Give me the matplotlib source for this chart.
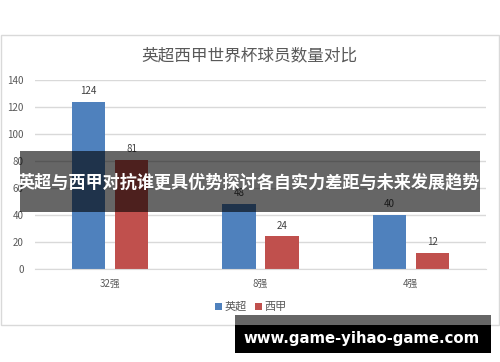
import matplotlib
matplotlib.use('Agg')
import numpy as np
import matplotlib.pyplot as plt
from matplotlib.patches import Rectangle

plt.rcParams['font.family'] = ['Noto Sans CJK SC', 'DejaVu Sans']

categories = ['32强', '8强', '4强']
series_names = ['英超', '西甲']
epl = [124, 48, 40]
laliga = [81, 24, 12]
colors = ['#4F81BD', '#C0504D']
title = '英超西甲世界杯球员数量对比'
banner = '英超与西甲对抗谁更具优势探讨各自实力差距与未来发展趋势'
watermark = 'www.game-yihao-game.com'

W, H = 500, 362
fig = plt.figure(figsize=(W / 100, H / 100), dpi=100)
fig.patch.set_facecolor('white')

def fx(px):
    return px / W

def fy(py):
    return 1 - py / H

# chart frame
fig.patches.append(Rectangle((fx(1), fy(325)), fx(498), (325 - 35) / H,
                             transform=fig.transFigure, fill=False,
                             edgecolor='#D9D9D9', lw=1, zorder=0))

ax = fig.add_axes([fx(35), fy(268.7), fx(451), (268.7 - 80) / H])
x = np.arange(len(categories))
w = 0.22
off = 0.143
b1 = ax.bar(x - off, epl, w, color=colors[0], label=series_names[0], zorder=2)
b2 = ax.bar(x + off, laliga, w, color=colors[1], label=series_names[1], zorder=2)
for bars in (b1, b2):
    for r in bars:
        ax.annotate(str(int(r.get_height())), (r.get_x() + r.get_width() / 2, r.get_height()),
                    xytext=(0, 4), textcoords='offset points', ha='center', va='bottom',
                    fontsize=7, color='#404040')

ax.set_ylim(0, 140)
ax.set_xlim(-0.5, 2.5)
ax.set_yticks(range(0, 141, 20))
ax.set_xticks(x)
ax.set_xticklabels(categories)
ax.grid(axis='y', color='#D9D9D9', lw=1, zorder=0)
for s in ['top', 'right', 'left']:
    ax.spines[s].set_visible(False)
ax.spines['bottom'].set_color('#D9D9D9')
ax.tick_params(length=0, labelsize=7, colors='#595959')
ax.tick_params(axis='x', pad=7)
ax.tick_params(axis='y', pad=8)

fig.text(fx(249), fy(56), title, ha='center', va='center', fontsize=12, color='#595959')
fig.legend(loc='center', bbox_to_anchor=(fx(251), fy(307)), ncol=2, frameon=False,
           fontsize=8, handlelength=0.6, handleheight=0.6, handletextpad=0.2,
           columnspacing=0.8, labelcolor='#595959')

# banner overlay
fig.patches.append(Rectangle((fx(20), fy(212)), fx(460), (212 - 151) / H,
                             transform=fig.transFigure, facecolor='black', alpha=0.6,
                             edgecolor='none', zorder=10))
fig.text(fx(249), fy(182), banner, ha='center', va='center', fontsize=12.3,
         fontweight='bold', color='white', zorder=11)

# watermark
fig.patches.append(Rectangle((fx(235), fy(325)), fx(256), 10 / H,
                             transform=fig.transFigure, facecolor='#666666',
                             edgecolor='none', zorder=10))
fig.patches.append(Rectangle((fx(235), fy(353)), fx(256), 28 / H,
                             transform=fig.transFigure, facecolor='black',
                             edgecolor='none', zorder=10))
fig.text(fx(362), fy(338), watermark, ha='center', va='center', fontsize=10.7,
         fontweight='bold', color='white', family=['DejaVu Sans'], zorder=11)

fig.savefig('out.png', dpi=100)
